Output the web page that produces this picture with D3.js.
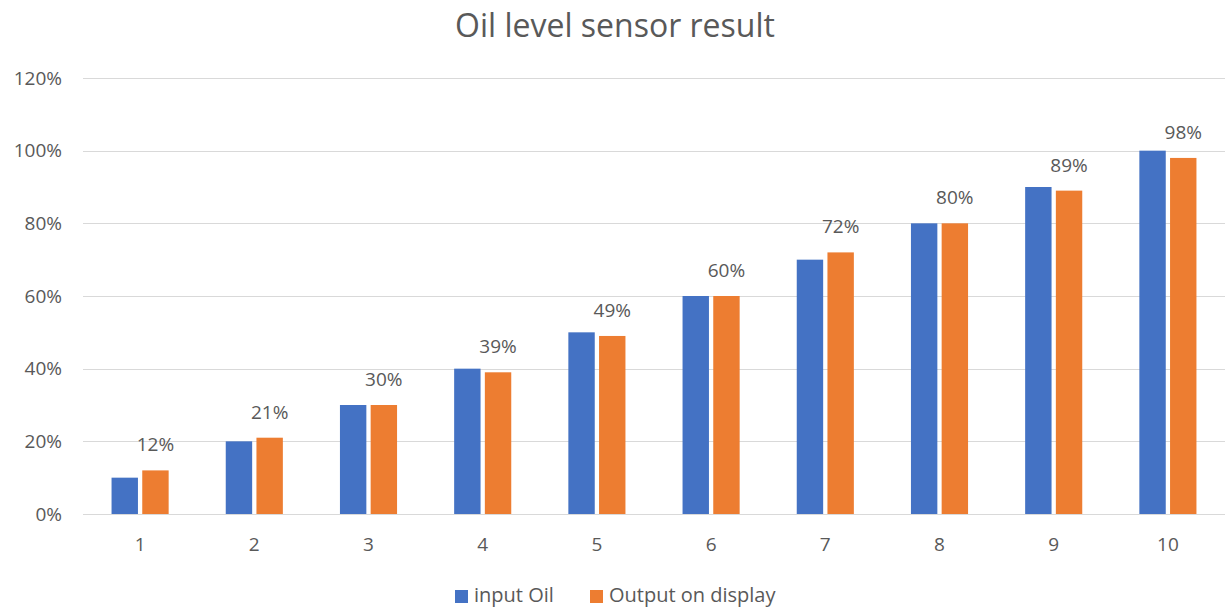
<!DOCTYPE html>
<html>
<head>
<meta charset="utf-8">
<script src="https://cdn.jsdelivr.net/npm/d3@7"></script>
<style>
  html, body { margin: 0; padding: 0; background: #fff; }
  svg { display: block; font-family: "Open Sans", "Noto Sans", sans-serif; }
</style>
</head>
<body>
<svg id="chart" width="1225" height="610"></svg>
<script>
const categories = ["1", "2", "3", "4", "5", "6", "7", "8", "9", "10"];
const inputOil = [0.10, 0.20, 0.30, 0.40, 0.50, 0.60, 0.70, 0.80, 0.90, 1.00];
const outputOnDisplay = [0.12, 0.21, 0.30, 0.39, 0.49, 0.60, 0.72, 0.80, 0.89, 0.98];
const seriesNames = ["input Oil", "Output on display"];
const seriesColors = ["#4472C4", "#ED7D31"];
const yTicks = [0, 0.2, 0.4, 0.6, 0.8, 1.0, 1.2];

const svg = d3.select("#chart");
const margin = { left: 83, right: 0, top: 78, bottom: 96 };
const W = 1225, H = 610;

const x = d3.scaleBand().domain(categories).range([margin.left, W - margin.right]).paddingInner(0).paddingOuter(0);
const y = d3.scaleLinear().domain([0, 1.2]).range([H - margin.bottom, margin.top]);
const groupWidth = x.bandwidth() * 0.5;
const xs = d3.scaleBand().domain(seriesNames).range([0, groupWidth]).paddingInner(0.14);

const textColor = "#595959";
const pct = d3.format(".0%");

// Title
svg.append("text")
  .attr("x", 615).attr("y", 37)
  .attr("text-anchor", "middle")
  .attr("font-size", 32)
  .attr("fill", textColor)
  .text("Oil level sensor result");

// Gridlines
svg.append("g")
  .selectAll("line")
  .data(yTicks)
  .join("line")
  .attr("x1", margin.left).attr("x2", W - margin.right)
  .attr("y1", d => Math.round(y(d)) + 0.5).attr("y2", d => Math.round(y(d)) + 0.5)
  .attr("stroke", "#d9d9d9").attr("stroke-width", 1.2);

// Y axis labels
const yAxis = d3.axisLeft(y).tickValues(yTicks).tickFormat(pct).tickSize(0).tickPadding(21);
const yg = svg.append("g").attr("transform", `translate(${margin.left},0)`).call(yAxis);
yg.select(".domain").remove();
yg.selectAll("text").attr("font-size", 19).attr("fill", textColor).attr("font-family", "Open Sans");

// X axis labels
const xAxis = d3.axisBottom(x).tickSize(0);
const xg = svg.append("g").attr("transform", `translate(0,${y(0)})`).call(xAxis);
xg.select(".domain").remove();
xg.selectAll("text").attr("dy", null).attr("y", 37)
  .attr("font-size", 19).attr("fill", textColor).attr("font-family", "Open Sans");

// Bars
const rows = categories.map((c, i) => ({ cat: c, values: [inputOil[i], outputOnDisplay[i]] }));
const groups = svg.append("g").selectAll("g")
  .data(rows).join("g")
  .attr("transform", d => `translate(${x(d.cat) + (x.bandwidth() - groupWidth) / 2},0)`);

groups.selectAll("rect")
  .data(d => d.values.map((v, k) => ({ name: seriesNames[k], v, k })))
  .join("rect")
  .attr("x", d => xs(d.name))
  .attr("width", xs.bandwidth())
  .attr("y", d => y(d.v))
  .attr("height", d => y(0) - y(d.v))
  .attr("fill", d => seriesColors[d.k]);

// Data labels on the display series
groups.append("text")
  .attr("x", xs(seriesNames[1]) + xs.bandwidth() / 2)
  .attr("y", d => y(d.values[1]) - 19)
  .attr("text-anchor", "middle")
  .attr("font-size", 19)
  .attr("fill", textColor)
  .text(d => pct(d.values[1]));

// Legend
const legend = svg.append("g").attr("transform", "translate(455,602)");
const legendItems = [{ name: seriesNames[0], color: seriesColors[0], dx: 0 }, { name: seriesNames[1], color: seriesColors[1], dx: 135 }];
const li = legend.selectAll("g").data(legendItems).join("g").attr("transform", d => `translate(${d.dx},0)`);
li.append("rect").attr("x", 0).attr("y", -12).attr("width", 13).attr("height", 13).attr("fill", d => d.color);
li.append("text").attr("x", 19).attr("y", 0)
  .attr("font-size", 20).attr("fill", textColor).text(d => d.name);
</script>
</body>
</html>
